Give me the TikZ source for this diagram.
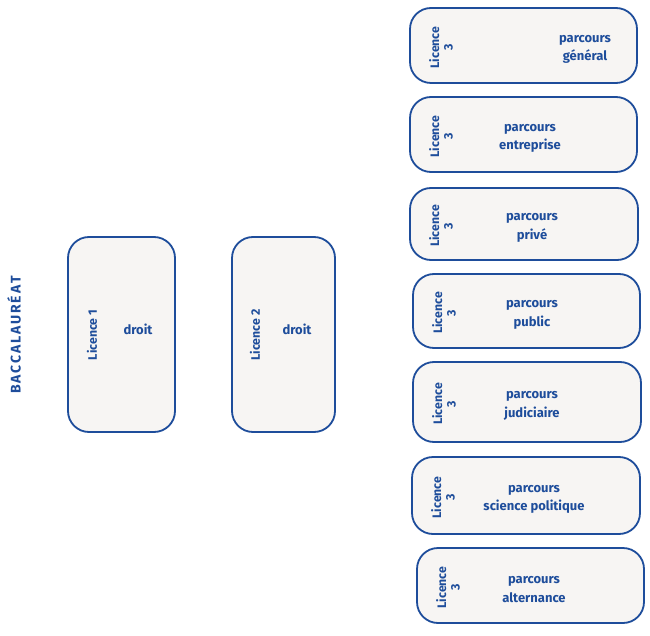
\documentclass[tikz,border=0pt]{standalone}
\usepackage{fontspec}
\setmainfont{Fira Sans}
\definecolor{navy}{HTML}{1E4D9B}
\definecolor{boxfill}{HTML}{F7F5F3}
\newcommand{\bk}{\kern1.8pt}
\begin{document}
\begin{tikzpicture}[x=1pt,y=-1pt,
  card/.style={draw=navy,fill=boxfill,line width=1.8pt,rounded corners=21pt},
  lbl/.style={text=navy,font=\bfseries\fontsize{13}{18.5}\selectfont,align=center,inner sep=0pt},
  vlbl/.style={text=navy,font=\bfseries\fontsize{12.3}{13.5}\selectfont,align=center,rotate=90,inner sep=0pt}]
\useasboundingbox (0,0) rectangle (650,636);
% Baccalaureat
\node[vlbl,font=\bfseries\fontsize{14}{15}\selectfont] (bac) at (14,335) {B\bk A\bk C\bk C\bk A\bk L\bk A\bk U\bk R\bk É\bk A\bk T};
% L1, L2
\draw[card] (68,237) rectangle (175,432);
\node[vlbl] (l1) at (92,335) {Licence 1};
\node[lbl] (d1) at (138,329) {droit};
\draw[card] (232,237) rectangle (335,432);
\node[vlbl] (l2) at (255,335) {Licence 2};
\node[lbl] (d2) at (297,329) {droit};
% L3 boxes
\foreach \xa/\ya/\xb/\yb/\tx/\ttext/\nm in {
  410/8/637/83/585/{parcours\\général}/a,
  410/97/637/172/530/{parcours\\entreprise}/b,
  410/188/638/260/532/{parcours\\privé}/c,
  413/274/640/348/532/{parcours\\public}/d,
  413/362/641/442/532/{parcours\\judiciaire}/e,
  412/457/640/534/534/{parcours\\science politique}/f,
  417/548/644/623/534/{parcours\\alternance}/g}{
  \draw[card] (\xa,\ya) rectangle (\xb,\yb);
  \node[vlbl] (v\nm) at ({\xa+31},{(\ya+\yb)/2+2}) {Licence\\3};
  \node[lbl] (p\nm) at (\tx,{(\ya+\yb)/2+4}) {\ttext};
}
\end{tikzpicture}
\end{document}
